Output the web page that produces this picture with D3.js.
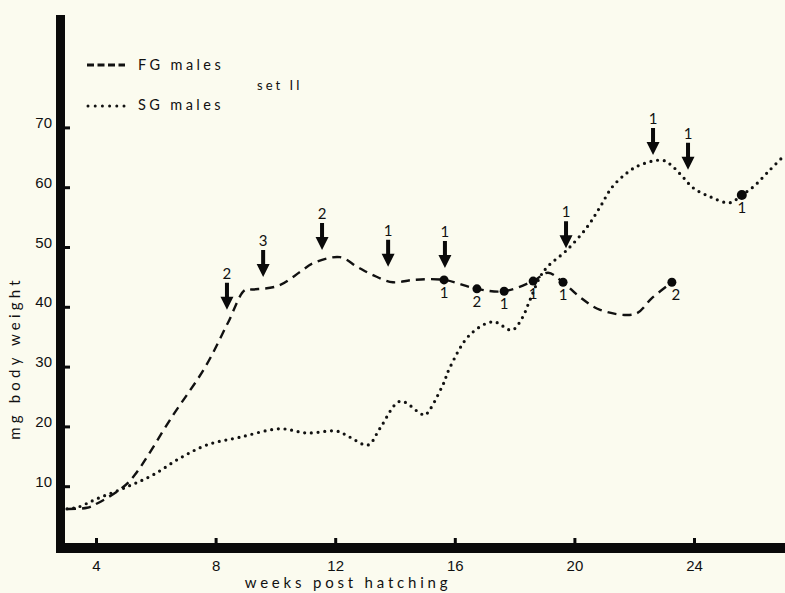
<!DOCTYPE html>
<html>
<head>
<meta charset="utf-8">
<title>set II body weight</title>
<script src="https://cdn.jsdelivr.net/npm/d3@7"></script>
<style>
  body { margin: 0; background: #fbfbef; }
  svg { display: block; font-family: Lato, "Open Sans", sans-serif; }
  text { fill: #111; }
</style>
</head>
<body>
<div id="chart"></div>
<script>
// weeks post hatching / mg body weight
const fgWeeks  = [3.03, 3.7, 4.07, 4.87, 5.3, 6.54, 7.65, 8.41, 8.98, 9.25, 10.09, 10.82, 11.26, 12.16, 12.73, 13.26, 13.93, 14.6, 15.64, 16.74, 17.65, 18.62, 19.12, 19.62, 20.19, 20.86, 22.03, 22.6, 23.26];
const fgWeight = [6.2, 6.4, 7.2, 9.7, 11.9, 21.6, 29.9, 37.3, 42.8, 42.9, 43.5, 45.8, 47.3, 48.3, 46.7, 45.3, 44.1, 44.5, 44.5, 43.0, 42.6, 44.3, 45.7, 44.1, 41.6, 39.5, 38.8, 41.5, 44.1];

const sgWeeks  = [3.03, 3.4, 4.03, 5.04, 5.91, 6.81, 7.71, 8.82, 10.15, 11.06, 12.06, 12.49, 13.1, 13.5, 14.17, 14.84, 15.0, 15.57, 15.84, 16.5, 17.28, 17.91, 18.25, 18.51, 18.85, 19.12, 19.75, 20.42, 20.86, 21.26, 21.76, 22.19, 22.96, 23.3, 23.63, 23.97, 24.54, 25.2, 25.6, 25.97, 26.54, 27.04];
const sgWeight = [6.2, 6.5, 7.9, 9.9, 11.9, 14.7, 16.9, 18.2, 19.6, 18.9, 19.2, 18.2, 16.9, 19.7, 24.2, 22.2, 21.9, 26.6, 29.9, 35.3, 37.5, 36.1, 38.1, 41.1, 45.0, 46.8, 49.5, 53.3, 56.7, 60.0, 62.4, 63.7, 64.5, 63.4, 61.7, 59.9, 58.4, 57.4, 58.7, 60.0, 62.9, 65.4];

// arrows: week, weight at the tip, count
const arrowWeeks  = [8.38, 9.59, 11.56, 13.77, 15.67, 19.72, 22.63, 23.8];
const arrowWeight = [39.5, 45.0, 49.5, 46.7, 46.5, 49.8, 65.4, 62.9];
const arrowCount  = ["2", "3", "2", "1", "1", "1", "1", "1"];

// dots on the curves: week, weight, count
const dotWeeks  = [15.64, 16.74, 17.65, 18.62, 19.62, 23.26, 25.6];
const dotWeight = [44.5, 43.0, 42.6, 44.3, 44.1, 44.1, 58.7];
const dotCount  = ["1", "2", "1", "1", "1", "2", "1"];

const xTicks = [4, 8, 12, 16, 20, 24];
const yTicks = [10, 20, 30, 40, 50, 60, 70];

const W = 785, H = 593;
const svg = d3.select("#chart").append("svg")
    .attr("width", W).attr("height", H);

const x = d3.scaleLinear().domain([4, 24]).range([96, 694]);
const y = d3.scaleLinear().domain([0, 70]).range([546, 127.4]);

// thick axis bars
svg.append("rect").attr("x", 56).attr("y", 15).attr("width", 9).attr("height", 538).attr("fill", "#0a0a0a");
svg.append("rect").attr("x", 56).attr("y", 543).attr("width", W - 56).attr("height", 10).attr("fill", "#0a0a0a");

const xAxis = svg.append("g")
    .attr("transform", "translate(0,543)")
    .call(d3.axisBottom(x).tickValues(xTicks).tickSize(-5).tickPadding(17));
xAxis.select(".domain").remove();
xAxis.selectAll("line").attr("stroke", "#0a0a0a").attr("stroke-width", 3);
xAxis.selectAll("text").attr("font-size", 15).attr("fill", "#111");

const yAxis = svg.append("g")
    .attr("transform", "translate(65,0)")
    .call(d3.axisLeft(y).tickValues(yTicks).tickSize(-5).tickPadding(13));
yAxis.select(".domain").remove();
yAxis.selectAll("line").attr("stroke", "#0a0a0a").attr("stroke-width", 3);
yAxis.selectAll("text").attr("dy", "0").attr("font-size", 15).attr("fill", "#111");

svg.append("text")
    .attr("x", 348).attr("y", 588)
    .attr("text-anchor", "middle")
    .attr("font-size", 15).attr("letter-spacing", 3.8)
    .text("weeks post hatching");

svg.append("text")
    .attr("transform", "translate(20,358) rotate(-90)")
    .attr("text-anchor", "middle")
    .attr("font-size", 15).attr("letter-spacing", 4.2)
    .text("mg body weight");

// curves
const line = d3.line()
    .x(d => x(d[0])).y(d => y(d[1]))
    .curve(d3.curveCatmullRom);

svg.append("path")
    .datum(d3.zip(fgWeeks, fgWeight))
    .attr("d", line)
    .attr("fill", "none").attr("stroke", "#111")
    .attr("stroke-width", 2.4).attr("stroke-dasharray", "9,6");

svg.append("path")
    .datum(d3.zip(sgWeeks, sgWeight))
    .attr("d", line)
    .attr("fill", "none").attr("stroke", "#111")
    .attr("stroke-width", 3.2).attr("stroke-linecap", "round")
    .attr("stroke-dasharray", "0,6.7");

// arrows
const arrows = svg.append("g").selectAll("g")
    .data(d3.zip(arrowWeeks, arrowWeight, arrowCount))
    .join("g")
    .attr("transform", d => `translate(${x(d[0])},${y(d[1])})`);
arrows.append("path")
    .attr("d", "M0,0 L-6.5,-13 L-2,-13 L-2,-27 L2,-27 L2,-13 L6.5,-13 Z")
    .attr("fill", "#0a0a0a");
arrows.append("text")
    .attr("y", -31).attr("text-anchor", "middle")
    .attr("font-size", 15)
    .text(d => d[2]);

// dots
const dots = svg.append("g").selectAll("g")
    .data(d3.zip(dotWeeks, dotWeight, dotCount))
    .join("g")
    .attr("transform", d => `translate(${x(d[0])},${y(d[1])})`);
dots.append("circle").attr("r", (d, i) => i === 6 ? 5 : 4.5).attr("fill", "#0a0a0a");
dots.append("text")
    .attr("x", (d, i) => i === 5 ? 4 : 0)
    .attr("y", 18).attr("text-anchor", "middle")
    .attr("font-size", 15)
    .text(d => d[2]);

// legend
svg.append("line").attr("x1", 87).attr("x2", 125).attr("y1", 65).attr("y2", 65)
    .attr("stroke", "#111").attr("stroke-width", 3).attr("stroke-dasharray", "7,3.5");
svg.append("line").attr("x1", 88).attr("x2", 124).attr("y1", 106).attr("y2", 106)
    .attr("stroke", "#111").attr("stroke-width", 3).attr("stroke-linecap", "round")
    .attr("stroke-dasharray", "0,7.2");
svg.append("text").attr("x", 138).attr("y", 70)
    .attr("font-size", 14.5).attr("letter-spacing", 3.4).text("FG males");
svg.append("text").attr("x", 138).attr("y", 110)
    .attr("font-size", 14.5).attr("letter-spacing", 3.4).text("SG males");
svg.append("text").attr("x", 257).attr("y", 90)
    .attr("font-size", 13).attr("letter-spacing", 3).text("set II");
</script>
</body>
</html>
